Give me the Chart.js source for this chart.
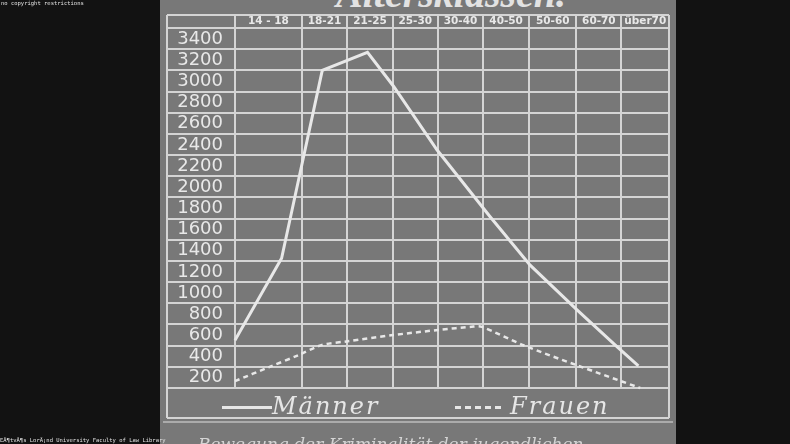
<!DOCTYPE html>
<html>
<head>
<meta charset="utf-8">
<script src="https://cdn.jsdelivr.net/npm/chart.js@4.4.1/dist/chart.umd.min.js"></script>
<style>
html,body{margin:0;padding:0;background:#121212;width:790px;height:444px;overflow:hidden;}
#slide{position:absolute;left:160px;top:0;width:516px;height:444px;background:#787878;}
#wrap{position:absolute;left:0;top:0;width:790px;height:444px;}
.t{position:absolute;white-space:nowrap;}
#title{left:336px;top:-26px;font:italic bold 40px/40px "Liberation Serif";color:#e2e2e2;}
.leg{top:394px;font:italic 24px/24px "DejaVu Serif";color:#e6e6e6;letter-spacing:2px;}
#solid{position:absolute;left:222px;top:406px;width:50px;height:3px;background:#e6e6e6;}
#dash{position:absolute;left:455px;top:406px;width:46px;height:3px;background:repeating-linear-gradient(90deg,#e6e6e6 0 6px,transparent 6px 10px);}
#caption{left:198px;top:436px;font:italic 17px/17px "DejaVu Serif";color:#d4d4d4;}
.wm{font:5.5px/6px "DejaVu Sans Mono";color:#e0e0e0;}
</style>
</head>
<body>
<div id="slide"></div>
<div id="title" class="t">Altersklassen.</div>
<div id="wrap"><canvas id="c" width="790" height="444"></canvas></div>
<div id="solid"></div>
<div class="t leg" style="left:272px;">Männer</div>
<div id="dash"></div>
<div class="t leg" style="left:510px;">Frauen</div>
<div id="caption" class="t">Bewegung der Kriminalität der jugendlichen</div>
<div class="t wm" style="left:1px;top:0px;">no copyright restrictions</div>
<div class="t wm" style="left:0px;top:437px;">EÃ¶tvÃ¶s LorÃ¡nd University Faculty of Law Library</div>
<script>
// ---- data ----
const columnLabels = ['14 - 18','18-21','21-25','25-30','30-40','40-50','50-60','60-70','über70'];
const columnEdges = [0,1.46,2.46,3.45,4.44,5.43,6.44,7.47,8.46,9.5];
const valueTicks = [0,200,400,600,800,1000,1200,1400,1600,1800,2000,2200,2400,2600,2800,3000,3200,3400];
const maennerPos   = [0, 1.02, 1.91, 2.90, 3.47, 4.42, 5.58, 6.46, 7.48, 8.36, 8.83];
const maennerWerte = [450, 1225, 3000, 3170, 2850, 2250, 1620, 1160, 740, 390, 210];
const frauenPos   = [0, 0.76, 1.39, 1.89, 2.44, 3.46, 4.45, 5.22, 5.40, 6.31, 7.48, 8.87];
const frauenWerte = [65, 200, 310, 405, 440, 500, 548, 580, 578, 405, 215, 0];

const gridColor = '#d4d4d4';
const inkColor = '#e8e8e8';
const columnCenters = columnLabels.map((_, i) => (columnEdges[i] + columnEdges[i+1]) / 2);

const framePlugin = {
  id: 'frame',
  afterDraw(chart) {
    const {ctx, chartArea: a, scales} = chart;
    const left = scales.y.left, top = Math.min(scales.x.top, scales.xg.top);
    const legBottom = a.bottom + 30;
    ctx.save();
    ctx.strokeStyle = gridColor;
    ctx.lineWidth = 2;
    ctx.beginPath();
    ctx.moveTo(left, top); ctx.lineTo(a.right, top);
    ctx.moveTo(left, top); ctx.lineTo(left, legBottom);
    ctx.moveTo(a.right, a.bottom); ctx.lineTo(a.right, legBottom);
    ctx.moveTo(left, legBottom); ctx.lineTo(a.right, legBottom);
    ctx.stroke();
    ctx.lineWidth = 1.5;
    ctx.strokeStyle = '#bdbdbd';
    ctx.beginPath();
    ctx.moveTo(left - 4, legBottom + 4); ctx.lineTo(a.right + 4, legBottom + 4);
    ctx.stroke();
    ctx.restore();
  }
};

new Chart(document.getElementById('c'), {
  type: 'line',
  data: {
    datasets: [
      {
        label: 'Männer',
        data: maennerPos.map((x, i) => ({x, y: maennerWerte[i]})),
        borderColor: inkColor, borderWidth: 3, pointRadius: 0, tension: 0, clip: false
      },
      {
        label: 'Frauen',
        data: frauenPos.map((x, i) => ({x, y: frauenWerte[i]})),
        borderColor: inkColor, borderWidth: 2.5, borderDash: [5, 4], pointRadius: 0, tension: 0.3, clip: false
      }
    ]
  },
  options: {
    responsive: false,
    animation: false,
    layout: {padding: {left: 167, right: 121, top: 15, bottom: 56}},
    plugins: {legend: {display: false}, tooltip: {enabled: false}},
    scales: {
      x: {
        type: 'linear', position: 'top', min: 0, max: 9.5, weight: 1,
        afterBuildTicks: s => { s.ticks = columnCenters.map(v => ({value: v})); },
        afterFit: s => { s.height = 13; },
        ticks: {
          padding: 0, color: inkColor, maxRotation: 0, autoSkip: false,
          font: {family: 'DejaVu Sans', size: 10.5, weight: 'bold'},
          callback: (v, i) => columnLabels[i]
        },
        grid: {display: false, drawTicks: false, tickLength: 0},
        border: {display: false}
      },
      xg: {
        type: 'linear', position: 'top', min: 0, max: 9.5, weight: 0,
        afterBuildTicks: s => { s.ticks = columnEdges.map(v => ({value: v})); },
        afterFit: s => { s.height = 0; },
        ticks: {display: false},
        grid: {color: gridColor, lineWidth: 2, drawTicks: true, tickLength: 13, tickColor: gridColor},
        border: {display: false}
      },
      y: {
        type: 'linear', min: 0, max: 3400,
        afterBuildTicks: s => { s.ticks = valueTicks.map(v => ({value: v})); },
        afterFit: s => { s.width = 68; },
        ticks: {
          padding: -56, labelOffset: 11, color: inkColor, autoSkip: false,
          font: {family: 'DejaVu Sans', size: 18},
          callback: v => v === 0 ? '' : String(v)
        },
        grid: {color: gridColor, lineWidth: 2, drawTicks: true, tickLength: 68, tickColor: gridColor},
        border: {display: false}
      }
    }
  },
  plugins: [framePlugin]
});
</script>
</body>
</html>
